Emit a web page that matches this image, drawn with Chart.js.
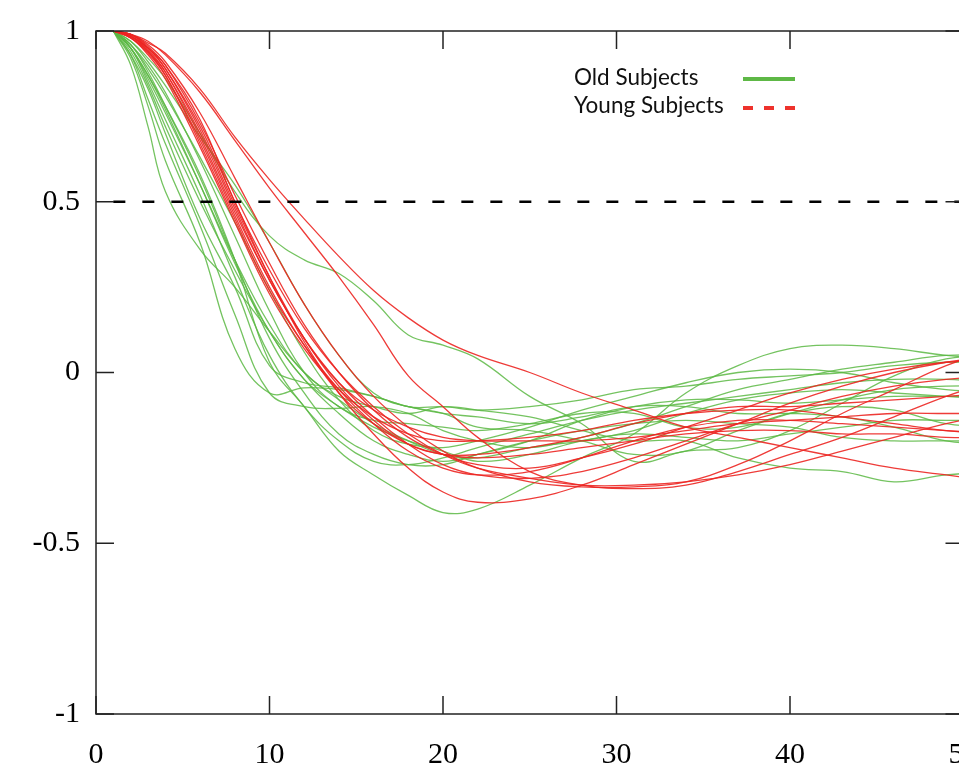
<!DOCTYPE html>
<html>
<head>
<meta charset="utf-8">
<script src="https://cdn.jsdelivr.net/npm/chart.js@4.4.1/dist/chart.umd.min.js"></script>
<style>
  html, body { margin: 0; padding: 0; background: #fff; overflow: hidden; }
  #wrap { width: 1000px; height: 764px; }
</style>
</head>
<body>
<div id="wrap"><canvas id="acf" width="1000" height="764"></canvas></div>
<script>
// lag values shared by every curve
const lags = [1, 2, 3, 4, 6, 8, 10, 12, 14, 16, 18, 20, 22, 25, 28, 31, 34, 37, 40, 43, 46, 49, 52];

// old subjects (green)
const old01 = [1, 0.97, 0.92, 0.86, 0.70, 0.53, 0.40, 0.33, 0.29, 0.21, 0.11, 0.08, 0.04, -0.07, -0.15, -0.26, -0.23, -0.22, -0.17, -0.09, -0.01, 0.04, 0.05];
const old02 = [1, 0.95, 0.87, 0.78, 0.58, 0.33, 0.03, -0.10, -0.23, -0.30, -0.36, -0.41, -0.40, -0.33, -0.25, -0.18, -0.06, 0.02, 0.07, 0.08, 0.07, 0.05, 0.04];
const old03 = [1, 0.90, 0.72, 0.53, 0.36, 0.25, 0.12, 0.00, -0.08, -0.15, -0.20, -0.24, -0.25, -0.22, -0.20, -0.17, -0.12, -0.08, -0.06, -0.05, -0.06, -0.07, -0.08];
const old04 = [1, 0.92, 0.78, 0.62, 0.38, 0.07, -0.06, -0.045, -0.05, -0.07, -0.10, -0.12, -0.13, -0.15, -0.13, -0.10, -0.10, -0.12, -0.12, -0.13, -0.16, -0.20, -0.21];
const old05 = [1, 0.93, 0.80, 0.67, 0.43, 0.17, -0.06, -0.10, -0.105, -0.10, -0.12, -0.17, -0.20, -0.22, -0.19, -0.15, -0.10, -0.05, -0.02, 0.01, 0.03, 0.05, 0.05];
const old06 = [1, 0.95, 0.85, 0.74, 0.52, 0.28, 0.05, -0.10, -0.20, -0.26, -0.27, -0.25, -0.22, -0.18, -0.14, -0.11, -0.09, -0.07, -0.05, -0.03, -0.02, -0.02, -0.03];
const old07 = [1, 0.96, 0.88, 0.78, 0.57, 0.33, 0.10, -0.06, -0.18, -0.24, -0.27, -0.27, -0.24, -0.20, -0.17, -0.15, -0.14, -0.15, -0.16, -0.19, -0.20, -0.20, -0.20];
const old08 = [1, 0.95, 0.86, 0.76, 0.55, 0.33, 0.14, 0.00, -0.07, -0.10, -0.12, -0.10, -0.11, -0.13, -0.17, -0.20, -0.20, -0.25, -0.28, -0.29, -0.32, -0.30, -0.29];
const old09 = [1, 0.97, 0.91, 0.84, 0.69, 0.55, 0.38, 0.20, 0.05, -0.06, -0.10, -0.10, -0.11, -0.10, -0.08, -0.05, -0.04, -0.02, -0.01, 0.00, 0.02, 0.03, 0.03];
const old10 = [1, 0.96, 0.89, 0.81, 0.63, 0.44, 0.24, 0.06, -0.08, -0.17, -0.21, -0.22, -0.20, -0.16, -0.11, -0.07, -0.03, 0.00, 0.01, 0.00, -0.03, -0.05, -0.06];
const old11 = [1, 0.94, 0.84, 0.72, 0.50, 0.30, 0.12, -0.02, -0.10, -0.16, -0.20, -0.23, -0.26, -0.24, -0.20, -0.18, -0.19, -0.20, -0.18, -0.16, -0.14, -0.14, -0.14];
const old12 = [1, 0.96, 0.90, 0.82, 0.62, 0.40, 0.18, 0.00, -0.10, -0.14, -0.15, -0.16, -0.17, -0.15, -0.12, -0.12, -0.16, -0.16, -0.12, -0.10, -0.11, -0.15, -0.16];
const old13 = [1, 0.95, 0.87, 0.77, 0.55, 0.32, 0.12, -0.02, -0.12, -0.20, -0.24, -0.26, -0.24, -0.20, -0.14, -0.10, -0.08, -0.08, -0.09, -0.08, -0.07, -0.07, -0.07];
const old14 = [1, 0.93, 0.83, 0.70, 0.45, 0.25, 0.02, -0.03, -0.045, -0.07, -0.10, -0.12, -0.16, -0.17, -0.20, -0.24, -0.23, -0.17, -0.12, -0.08, -0.05, -0.04, -0.04];

// young subjects (red)
const young01 = [1, 0.99, 0.965, 0.935, 0.83, 0.69, 0.565, 0.45, 0.34, 0.24, 0.16, 0.095, 0.05, 0.00, -0.06, -0.11, -0.16, -0.19, -0.22, -0.25, -0.28, -0.30, -0.32];
const young02 = [1, 0.99, 0.97, 0.93, 0.82, 0.68, 0.54, 0.41, 0.28, 0.14, -0.01, -0.10, -0.19, -0.29, -0.33, -0.34, -0.33, -0.29, -0.24, -0.19, -0.13, -0.07, -0.02];
const young03 = [1, 0.99, 0.96, 0.91, 0.76, 0.57, 0.38, 0.20, 0.05, -0.07, -0.16, -0.23, -0.28, -0.32, -0.335, -0.335, -0.32, -0.27, -0.20, -0.12, -0.05, 0.02, 0.07];
const young04 = [1, 0.99, 0.95, 0.90, 0.74, 0.50, 0.30, 0.13, 0.00, -0.10, -0.18, -0.24, -0.28, -0.31, -0.33, -0.33, -0.32, -0.30, -0.27, -0.23, -0.19, -0.15, -0.12];
const young05 = [1, 0.985, 0.95, 0.89, 0.72, 0.50, 0.28, 0.09, -0.06, -0.18, -0.28, -0.35, -0.38, -0.37, -0.33, -0.27, -0.21, -0.15, -0.09, -0.04, 0.00, 0.03, 0.05];
const young06 = [1, 0.985, 0.94, 0.88, 0.70, 0.48, 0.27, 0.10, -0.03, -0.13, -0.21, -0.27, -0.30, -0.31, -0.29, -0.25, -0.20, -0.15, -0.11, -0.07, -0.04, -0.02, -0.01];
const young07 = [1, 0.98, 0.94, 0.87, 0.68, 0.46, 0.25, 0.08, -0.05, -0.15, -0.23, -0.28, -0.30, -0.29, -0.25, -0.20, -0.16, -0.14, -0.14, -0.15, -0.16, -0.17, -0.18];
const young08 = [1, 0.985, 0.95, 0.89, 0.71, 0.49, 0.28, 0.10, -0.04, -0.14, -0.21, -0.24, -0.25, -0.24, -0.22, -0.20, -0.18, -0.17, -0.17, -0.18, -0.18, -0.19, -0.19];
const young09 = [1, 0.98, 0.93, 0.86, 0.66, 0.44, 0.23, 0.07, -0.05, -0.13, -0.18, -0.20, -0.20, -0.19, -0.17, -0.14, -0.12, -0.11, -0.11, -0.13, -0.15, -0.17, -0.18];
const young10 = [1, 0.99, 0.955, 0.90, 0.73, 0.52, 0.32, 0.14, 0.00, -0.11, -0.19, -0.24, -0.27, -0.28, -0.25, -0.21, -0.16, -0.11, -0.06, -0.02, 0.01, 0.03, 0.04];
const young11 = [1, 0.98, 0.935, 0.87, 0.67, 0.45, 0.24, 0.08, -0.06, -0.15, -0.21, -0.24, -0.24, -0.22, -0.19, -0.15, -0.12, -0.10, -0.10, -0.09, -0.08, -0.07, -0.06];
const young12 = [1, 0.985, 0.945, 0.88, 0.69, 0.47, 0.27, 0.10, -0.03, -0.11, -0.16, -0.19, -0.20, -0.20, -0.20, -0.19, -0.17, -0.15, -0.14, -0.13, -0.12, -0.12, -0.12];

const oldSeries = [old01, old02, old03, old04, old05, old06, old07, old08, old09, old10, old11, old12, old13, old14];
const youngSeries = [young01, young02, young03, young04, young05, young06, young07, young08, young09, young10, young11, young12];

const halfLevel = 0.5;
const xTicks = [0, 10, 20, 30, 40, 50];
const yTicks = [-1, -0.5, 0, 0.5, 1];
const legendLabels = ['Old Subjects', 'Young Subjects'];

const GREEN = 'rgba(92, 184, 68, 0.85)';
const RED = 'rgba(236, 38, 34, 0.9)';
const SERIF = "'Liberation Serif', 'Times New Roman', serif";

const toPoints = (ys) => lags.map((x, i) => ({ x, y: ys[i] }));

const datasets = [];
datasets.push({
  label: 'half',
  data: lags.map(x => ({ x, y: halfLevel })),
  borderColor: '#000',
  borderWidth: 2.4,
  borderDash: [12, 17],
  tension: 0,
});
youngSeries.forEach((ys, i) => datasets.push({
  label: i === 0 ? legendLabels[1] : '',
  data: toPoints(ys),
  borderColor: RED,
  borderWidth: 1.3,
  tension: 0.4,
}));
oldSeries.forEach((ys, i) => datasets.push({
  label: i === 0 ? legendLabels[0] : '',
  data: toPoints(ys),
  borderColor: GREEN,
  borderWidth: 1.3,
  tension: 0.4,
}));

// gnuplot-like frame with inward ticks on all four sides
const framePlugin = {
  id: 'frame',
  afterDatasetsDraw(chart) {
    const { ctx, chartArea: a, scales } = chart;
    const len = 18;
    ctx.save();
    ctx.strokeStyle = '#222';
    ctx.lineWidth = 1.5;
    ctx.strokeRect(a.left, a.top, a.right - a.left, a.bottom - a.top);
    ctx.beginPath();
    xTicks.forEach(v => {
      const px = scales.x.getPixelForValue(v);
      ctx.moveTo(px, a.bottom); ctx.lineTo(px, a.bottom - len);
      ctx.moveTo(px, a.top); ctx.lineTo(px, a.top + len);
    });
    yTicks.forEach(v => {
      const py = scales.y.getPixelForValue(v);
      ctx.moveTo(a.left, py); ctx.lineTo(a.left + len, py);
      ctx.moveTo(a.right, py); ctx.lineTo(a.right - len, py);
    });
    ctx.stroke();
    ctx.restore();
  }
};

// legend: text first, sample line after it
const keyPlugin = {
  id: 'key',
  afterDraw(chart) {
    const { ctx } = chart;
    ctx.save();
    ctx.font = "22.5px Lato, 'Noto Sans', sans-serif";
    ctx.fillStyle = '#111';
    ctx.textBaseline = 'alphabetic';
    ctx.textAlign = 'left';
    ctx.fillText(legendLabels[0], 574, 85);
    ctx.fillText(legendLabels[1], 574, 113);
    ctx.lineWidth = 4;
    ctx.strokeStyle = 'rgb(94, 184, 70)';
    ctx.beginPath(); ctx.moveTo(743, 79); ctx.lineTo(795, 79); ctx.stroke();
    ctx.strokeStyle = 'rgb(238, 50, 44)';
    ctx.setLineDash([10, 11]);
    ctx.beginPath(); ctx.moveTo(743, 108); ctx.lineTo(796, 108); ctx.stroke();
    ctx.restore();
  }
};

new Chart(document.getElementById('acf').getContext('2d'), {
  type: 'line',
  data: { datasets },
  plugins: [framePlugin, keyPlugin],
  options: {
    responsive: false,
    animation: false,
    events: [],
    layout: { padding: { top: 31, right: 36.5, bottom: 0, left: 0 } },
    elements: { point: { radius: 0 } },
    plugins: { legend: { display: false }, tooltip: { enabled: false } },
    scales: {
      x: {
        type: 'linear', min: 0, max: 50,
        afterFit: (s) => { s.height = 50; s.paddingLeft = 0; s.paddingRight = 0; },
        afterBuildTicks: (s) => { s.ticks = xTicks.map(v => ({ value: v })); },
        grid: { display: false, drawTicks: false },
        border: { display: false },
        ticks: { color: '#000', padding: 23, maxRotation: 0, font: { family: SERIF, size: 30 }, callback: (v) => String(v) },
      },
      y: {
        min: -1, max: 1,
        afterFit: (s) => { s.width = 96; s.paddingTop = 0; s.paddingBottom = 0; },
        afterBuildTicks: (s) => { s.ticks = yTicks.map(v => ({ value: v })); },
        grid: { display: false, drawTicks: false },
        border: { display: false },
        ticks: { color: '#000', padding: 16, font: { family: SERIF, size: 30 }, callback: (v) => String(v) },
      },
    },
  },
});
</script>
</body>
</html>
